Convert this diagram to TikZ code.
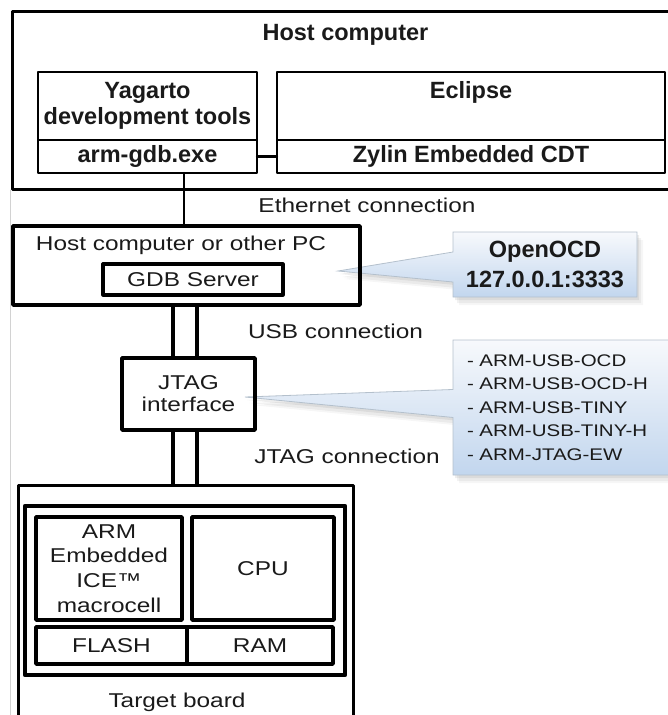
\documentclass[tikz,border=0pt]{standalone}
\usepackage{fontspec}
\setmainfont{Liberation Sans}
\newfontfamily\widesans[FakeStretch=1.22]{Liberation Sans}
\usepackage{tikz}
\usetikzlibrary{calc}
\usetikzlibrary{positioning, shapes.callouts, shadows, backgrounds}

\definecolor{ink}{HTML}{1A1A1A}
\definecolor{calltop}{HTML}{F7F9FC}
\definecolor{callbot}{HTML}{C2D6EE}
\definecolor{callrim}{HTML}{B4C0CC}
\definecolor{pageedge}{HTML}{D2D2D2}

\tikzset{
  every node/.style={inner sep=0pt, outer sep=0pt, text=ink},
  plainlbl/.style={font=\widesans\fontsize{20}{24}\selectfont, align=center},
  boldlbl/.style={font=\bfseries\fontsize{23.5}{26}\selectfont, align=center},
  thinbox/.style={draw, line width=2.2pt, anchor=north west},
  heavybox/.style={draw, line width=3.6pt, anchor=north west},
  wire/.style={line width=2.2pt},
  heavywire/.style={line width=3.4pt},
  note/.style={rectangle callout, draw=callrim, line width=0.8pt,
    top color=calltop, bottom color=callbot,
    drop shadow={shadow xshift=2pt, shadow yshift=-3pt, opacity=0.14},
    drop shadow={shadow xshift=4pt, shadow yshift=-6pt, opacity=0.10},
    drop shadow={shadow xshift=6pt, shadow yshift=-8pt, opacity=0.07}},
}

\begin{document}
\begin{tikzpicture}[x=1pt, y=-1pt, line cap=round, line join=round]
  \useasboundingbox (0,0) rectangle (668,715);

  % faint page edge
  \coordinate (edgetop) at (10,190);
  \coordinate (edgebot) at (10,715);
  \draw[pageedge, line width=1pt] (edgetop) -- (edgebot);

  % host computer
  \node[thinbox, minimum width=690, minimum height=178] (host) at (12.5,11.5) {};
  \node[boldlbl, anchor=base] (hostname) at (345.5,40.5) {Host computer};
  \node[thinbox, minimum width=219, minimum height=68, boldlbl] (yagarto) at (38,72) {Yagarto\\development tools};
  \node[thinbox, minimum width=219, minimum height=33, boldlbl] (armgdb) at (38,140) {arm-gdb.exe};
  \node[thinbox, minimum width=388, minimum height=68] (eclipse) at (277,72) {};
  \node[boldlbl, anchor=base] (eclipsename) at (471,98) {Eclipse};
  \node[thinbox, minimum width=388, minimum height=33, boldlbl] (zylin) at (277,140) {Zylin Embedded CDT};
  \draw[wire] (armgdb.east) -- (zylin.west);

  % host computer or other PC
  \node[heavybox, minimum width=347, minimum height=79] (pc) at (13,226) {};
  \node[plainlbl, anchor=base] (pcname) at (181,250) {Host computer or other PC};
  \node[heavybox, line width=3.2pt, minimum width=180, minimum height=31, plainlbl] (gdbserver) at (103,264) {GDB Server};

  % ethernet link
  \coordinate (ethx) at (184,0);
  \draw[wire] (armgdb.south -| ethx) -- (pc.north -| ethx);
  \node[plainlbl, anchor=base] (ethlbl) at (367,212) {Ethernet connection};

  % JTAG interface
  \node[heavybox, minimum width=133, minimum height=72, plainlbl,
    font=\widesans\fontsize{20}{22}\selectfont] (jtag) at (122,358) {JTAG\\interface};
  \node[plainlbl, anchor=base] (usblbl) at (335.5,338) {USB connection};
  \node[plainlbl, anchor=base] (jtaglbl) at (347,463) {JTAG connection};

  % target board
  \node[heavybox, line width=3pt, minimum width=335, minimum height=290] (board) at (18,485) {};
  \node[plainlbl, anchor=base] (boardname) at (177,707) {Target board};
  \node[heavybox, line width=4.4pt, minimum width=320, minimum height=169] (chip) at (25,506) {};
  \node[heavybox, minimum width=146, minimum height=103, plainlbl,
    font=\widesans\fontsize{20}{24.7}\selectfont] (ice) at (36,517) {ARM\\Embedded\\ICE™\\macrocell};
  \node[heavybox, minimum width=142, minimum height=103, plainlbl] (cpu) at (192,517) {CPU};
  \node[heavybox, minimum width=151, minimum height=37, plainlbl] (flash) at (36,627) {FLASH};
  \node[heavybox, minimum width=146, minimum height=37, plainlbl] (ram) at (187,627) {RAM};

  % cables (two wires each)
  \coordinate (wireA) at (173,0);
  \coordinate (wireB) at (197,0);
  \foreach \w in {wireA, wireB} {
    \draw[heavywire] (pc.south -| \w) -- (jtag.north -| \w);
    \draw[heavywire] (jtag.south -| \w) -- (board.north -| \w);
  }

  % callout notes
  \begin{scope}[on background layer]
    \node[note, minimum width=184, minimum height=65, callout pointer width=30pt,
      callout absolute pointer={($(pc.east)+(-22,5.5)$)}, align=center,
      font=\bfseries\fontsize{23.5}{30}\selectfont] (openocd) at (545,264.5) {OpenOCD\\127.0.0.1:3333};
    \node[note, minimum width=260, minimum height=135, callout pointer width=28pt,
      callout absolute pointer={($(jtag.east)+(-10,3)$)}, text width=232, align=left,
      font=\widesans\fontsize{16.8}{23.5}\selectfont] (probes) at (583,407.5)
      {- ARM-USB-OCD\\- ARM-USB-OCD-H\\- ARM-USB-TINY\\- ARM-USB-TINY-H\\- ARM-JTAG-EW};
  \end{scope}
\end{tikzpicture}
\end{document}
